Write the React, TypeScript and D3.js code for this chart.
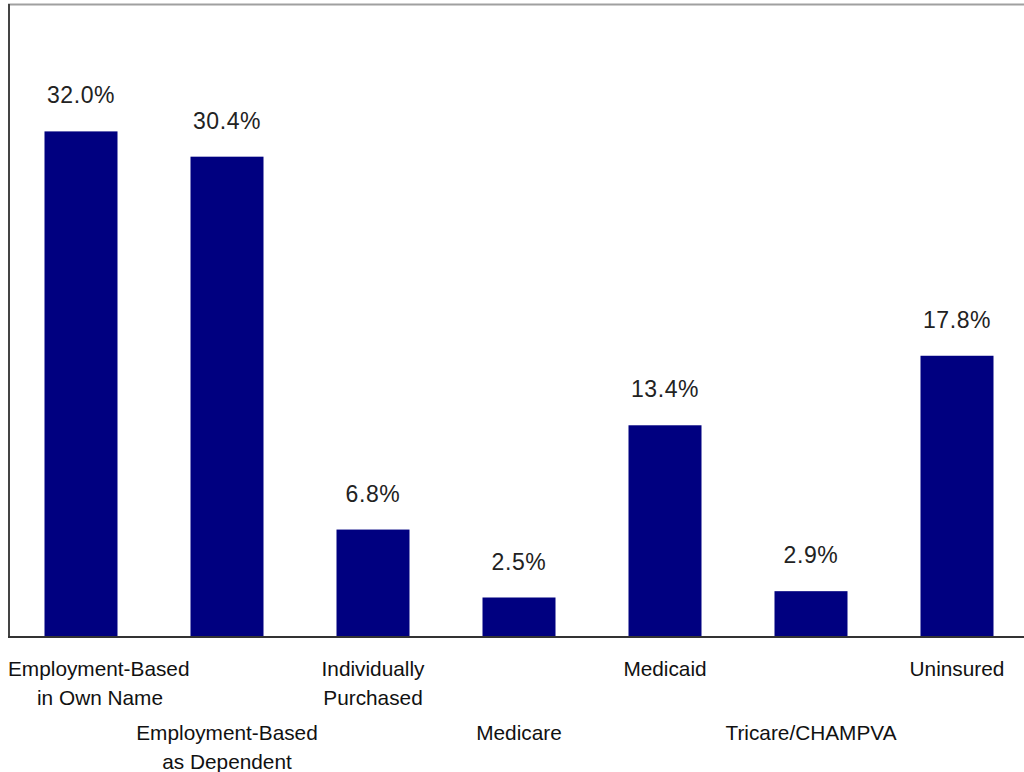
import React from "react";
import * as d3 from "d3";

const categories: string[][] = [
  ["Employment-Based", "in Own Name"],
  ["Employment-Based", "as Dependent"],
  ["Individually", "Purchased"],
  ["Medicare"],
  ["Medicaid"],
  ["Tricare/CHAMPVA"],
  ["Uninsured"],
];
const values: number[] = [32.0, 30.4, 6.8, 2.5, 13.4, 2.9, 17.8];
const valueLabels: string[] = ["32.0%", "30.4%", "6.8%", "2.5%", "13.4%", "2.9%", "17.8%"];

const W = 1024;
const H = 772;
const left = 8;
const right = 1030;
const top = 5;
const bottom = 637;

export default function App() {
  const x = d3
    .scaleBand<number>()
    .domain(d3.range(values.length))
    .range([left, right])
    .paddingInner(0.5)
    .paddingOuter(0.25);
  const y = d3.scaleLinear().domain([0, 40]).range([bottom, top]);
  const font = "'Liberation Sans', Arial, sans-serif";

  return (
    <svg
      width={W}
      height={H}
      style={{ position: "absolute", left: 0, top: 0, background: "#fff" }}
      fontFamily={font}
    >
      <rect x={0} y={0} width={W} height={H} fill="#fff" />
      {values.map((v, i) => (
        <rect
          key={"b" + i}
          x={x(i)!}
          y={y(v)}
          width={x.bandwidth()}
          height={bottom - y(v)}
          fill="#000080"
        />
      ))}
      {values.map((v, i) => (
        <text
          key={"v" + i}
          x={x(i)! + x.bandwidth() / 2}
          y={y(v) - 28}
          textAnchor="middle"
          fontSize={23}
          letterSpacing={0.6}
          fill="#222"
        >
          {valueLabels[i]}
        </text>
      ))}
      <line x1={left} x2={W} y1={top - 0.5} y2={top - 0.5} stroke="#a0a0a0" strokeWidth={2} />
      <line x1={left + 1} x2={left + 1} y1={top - 1} y2={bottom} stroke="#444" strokeWidth={2} />
      <line x1={left} x2={W} y1={bottom} y2={bottom} stroke="#333" strokeWidth={2} />
      {categories.map((lines, i) => {
        const cx = x(i)! + x.bandwidth() / 2;
        const staggered = i % 2 === 1;
        const base = staggered ? 740 : 676;
        const isFirst = i === 0;
        return (
          <text
            key={"c" + i}
            x={isFirst ? left : cx}
            y={base}
            textAnchor={isFirst ? "start" : "middle"}
            fontSize={20.8}
            fill="#111"
          >
            {lines.map((ln, j) => (
              <tspan
                key={j}
                x={isFirst ? (j === 0 ? left : left + 92) : cx}
                textAnchor={isFirst && j === 1 ? "middle" : undefined}
                y={base + j * 28.5}
              >
                {ln}
              </tspan>
            ))}
          </text>
        );
      })}
    </svg>
  );
}
